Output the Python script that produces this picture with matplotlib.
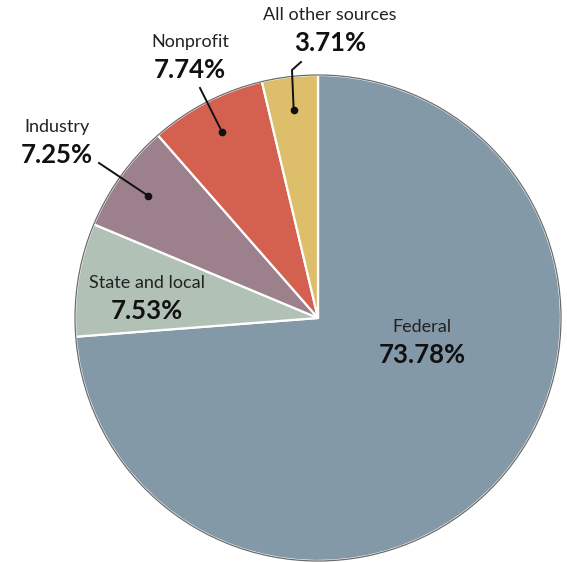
import matplotlib
matplotlib.use("Agg")
import matplotlib.pyplot as plt
import numpy as np

plt.rcParams['font.family'] = ['Lato', 'DejaVu Sans']

# 数据
labels = ['Federal', 'State and local', 'Industry', 'Nonprofit', 'All other sources']
shares = [73.78, 7.53, 7.25, 7.74, 3.71]
colors = ['#8499a8', '#b1c1b6', '#9c818c', '#d4604f', '#dcbe6b']

W, H = 567, 562
fig = plt.figure(figsize=(W / 100, H / 100), dpi=100)
ax = fig.add_axes([0, 0, 1, 1])

cx, cy, R = 318, H - 318, 243
wedges, _ = ax.pie(shares, colors=colors, startangle=90, counterclock=False,
                   center=(cx, cy), radius=R,
                   wedgeprops=dict(edgecolor='white', linewidth=1.6))
# 外圈细灰线
ax.add_patch(plt.Circle((cx, cy), R, fill=False, edgecolor='#6b6b6b', linewidth=0.9))

ax.set_xlim(0, W)
ax.set_ylim(0, H)
ax.set_aspect('equal')
ax.axis('off')

# 标签位置（像素坐标，y 从上往下）
label_pos = {
    'Federal': (422, 327),
    'State and local': (147, 283),
    'Industry': (57, 127),
    'Nonprofit': (190, 42),
    'All other sources': (330, 15),
}
# 引线端点
line_end = {
    'Industry': [(99, 163)],
    'Nonprofit': [(200, 88)],
    'All other sources': [(292, 70), (301, 62)],
}

for w, lab, val in zip(wedges, labels, shares):
    px, py = label_pos[lab]
    ax.text(px, H - py, lab, ha='center', va='center', fontsize=13, color='#222222')
    ax.text(px, H - py - 28, f'{val:.2f}%', ha='center', va='center',
            fontsize=18.5, fontweight='bold', color='#111111')
    if lab in line_end:
        mid = np.deg2rad((w.theta1 + w.theta2) / 2)
        dx = cx + 0.86 * R * np.cos(mid)
        dy = cy + 0.86 * R * np.sin(mid)
        pts = [(dx, dy)] + [(x, H - y) for x, y in line_end[lab]]
        ax.plot([p[0] for p in pts], [p[1] for p in pts], color='#111111', linewidth=1.4)
        ax.plot(dx, dy, 'o', color='#111111', markersize=4.5)

fig.savefig('out.png', dpi=100)
